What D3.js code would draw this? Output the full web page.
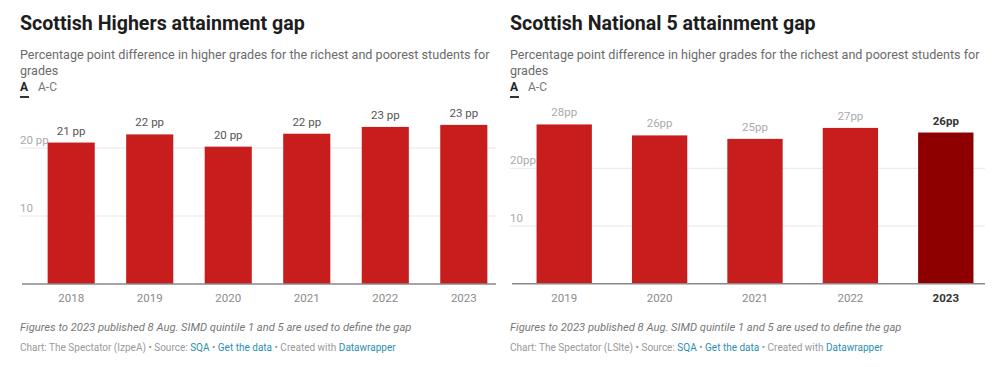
<!DOCTYPE html>
<html><head><meta charset="utf-8">
<script src="https://cdn.jsdelivr.net/npm/d3@7"></script>
<style>
html,body{margin:0;padding:0;background:#fff;}
svg{display:block;font-family:Roboto,"Noto Sans",sans-serif;}
</style></head>
<body>
<svg id="c" width="1000" height="367"></svg>
<script>
// ---- data ----
const highersYears = ["2018","2019","2020","2021","2022","2023"];
const highersValues = [20.8, 22.0, 20.2, 22.1, 23.1, 23.4];
const highersLabels = ["21 pp","22 pp","20 pp","22 pp","23 pp","23 pp"];
const highersTicks = [10, 20];
const highersTickLabels = ["10", "20 pp"];

const nat5Years = ["2019","2020","2021","2022","2023"];
const nat5Values = [27.6, 25.7, 25.1, 27.0, 26.2];
const nat5Labels = ["28pp","26pp","25pp","27pp","26pp"];
const nat5Ticks = [10, 20];
const nat5TickLabels = ["10", "20pp"];

const titles = ["Scottish Highers attainment gap", "Scottish National 5 attainment gap"];
const subtitleLine1 = "Percentage point difference in higher grades for the richest and poorest students for";
const subtitleLine2 = "grades";
const footnote = "Figures to 2023 published 8 Aug. SIMD quintile 1 and 5 are used to define the gap";
const chartIds = ["IzpeA", "LSlte"];

const svg = d3.select("#c");

function panel(cfg) {
  const g = svg.append("g");
  const L = cfg.left, R = cfg.right;
  // title
  g.append("text").attr("x", L).attr("y", 30).attr("font-size", 19.6).attr("font-weight", 700)
    .attr("fill", "#1d1d1d").text(cfg.title);
  g.append("text").attr("x", L).attr("y", 59).attr("font-size", 12.6).attr("fill", "#6b6b6b").text(subtitleLine1);
  g.append("text").attr("x", L).attr("y", 75).attr("font-size", 12.6).attr("fill", "#6b6b6b").text(subtitleLine2);
  g.append("text").attr("x", L).attr("y", 91).attr("font-size", 12).attr("font-weight", 700).attr("fill", "#222").text("A");
  g.append("rect").attr("x", L).attr("y", 96).attr("width", 9).attr("height", 2).attr("fill", "#333");
  g.append("text").attr("x", L + 18).attr("y", 91).attr("font-size", 12).attr("fill", "#777").text("A-C");

  const y = d3.scaleLinear().domain([0, 20]).range([cfg.y0, cfg.y20]);
  const x = d3.scaleBand().domain(cfg.years).range([cfg.x0, cfg.x1])
    .paddingInner(cfg.pi).paddingOuter(cfg.po);

  // gridlines + tick labels
  const grid = g.append("g");
  grid.selectAll("line").data(cfg.ticks).join("line")
    .attr("x1", L).attr("x2", R).attr("y1", d => y(d)).attr("y2", d => y(d))
    .attr("stroke", "#e8e8e8").attr("stroke-width", 1);
  grid.selectAll("text").data(cfg.ticks).join("text")
    .attr("x", L).attr("y", d => y(d) - 4).attr("font-size", 11.5).attr("fill", "#aaa")
    .text((d, i) => cfg.tickLabels[i]);

  // bars
  g.append("g").selectAll("rect").data(cfg.values).join("rect")
    .attr("x", (d, i) => x(cfg.years[i])).attr("width", x.bandwidth())
    .attr("y", d => y(d)).attr("height", d => y(0) - y(d))
    .attr("fill", (d, i) => cfg.highlight === i ? "#8e0000" : "#c71e1d");

  // value labels
  g.append("g").selectAll("text").data(cfg.values).join("text")
    .attr("x", (d, i) => x(cfg.years[i]) + x.bandwidth() / 2).attr("y", d => y(d) - 8)
    .attr("text-anchor", "middle").attr("font-size", 11.5)
    .attr("font-weight", (d, i) => cfg.highlight === i ? 700 : 400)
    .attr("fill", (d, i) => cfg.highlight === i ? "#333" : cfg.labelColor)
    .text((d, i) => cfg.labels[i]);

  // baseline
  g.append("line").attr("x1", L + 2).attr("x2", R).attr("y1", y(0)).attr("y2", y(0))
    .attr("stroke", "#888").attr("stroke-width", 1.5);

  // x axis
  const xa = g.append("g").attr("transform", `translate(0,${y(0)})`)
    .call(d3.axisBottom(x).tickSize(0).tickPadding(10));
  xa.select(".domain").remove();
  xa.selectAll("text").attr("font-size", 11.5).attr("font-family", "Roboto,'Noto Sans',sans-serif")
    .attr("fill", (d, i) => cfg.highlight === i ? "#333" : "#8a8a8a")
    .attr("font-weight", (d, i) => cfg.highlight === i ? 700 : 400);

  // notes
  g.append("text").attr("x", L).attr("y", 331).attr("font-size", 11.2).attr("font-style", "italic")
    .attr("fill", "#777").text(footnote);
  const cr = g.append("text").attr("x", L).attr("y", 351).attr("font-size", 10).attr("fill", "#999");
  cr.append("tspan").text(`Chart: The Spectator (${cfg.id}) • Source: `);
  cr.append("tspan").attr("fill", "#2a8fb0").text("SQA");
  cr.append("tspan").text(" • ");
  cr.append("tspan").attr("fill", "#2a8fb0").text("Get the data");
  cr.append("tspan").text(" • Created with ");
  cr.append("tspan").attr("fill", "#2a8fb0").text("Datawrapper");
}

panel({left: 20, right: 496, title: titles[0], years: highersYears, values: highersValues,
  labels: highersLabels, ticks: highersTicks, tickLabels: highersTickLabels,
  y0: 284, y20: 148, x0: 39, x1: 496, pi: 0.4, po: 0.11, labelColor: "#555", highlight: -1, id: chartIds[0]});
panel({left: 510, right: 985, title: titles[1], years: nat5Years, values: nat5Values,
  labels: nat5Labels, ticks: nat5Ticks, tickLabels: nat5TickLabels,
  y0: 283.7, y20: 168.3, x0: 527, x1: 983, pi: 0.42, po: 0.1, labelColor: "#aaa", highlight: 4, id: chartIds[1]});
</script>
</body></html>
